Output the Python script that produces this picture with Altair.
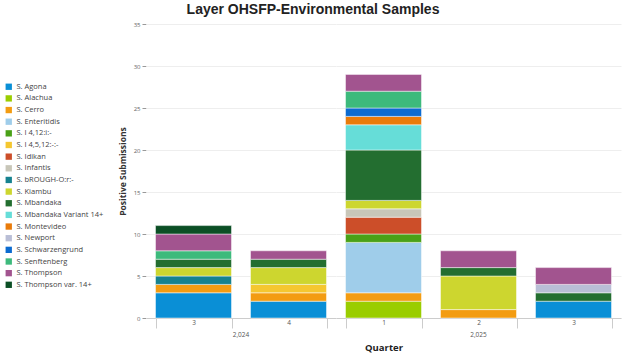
import altair as alt
import pandas as pd

species = [
    "S. Agona", "S. Alachua", "S. Cerro", "S. Enteritidis", "S. I 4,12:i:-",
    "S. I 4,5,12:-:-", "S. Idikan", "S. Infantis", "S. bROUGH-O:r:-", "S. Kiambu",
    "S. Mbandaka", "S. Mbandaka Variant 14+", "S. Montevideo", "S. Newport",
    "S. Schwarzengrund", "S. Senftenberg", "S. Thompson", "S. Thompson var. 14+",
]
colors = [
    "#0A8FD6", "#9ACD00", "#F39C12", "#9FCDEA", "#4AA117",
    "#F5C730", "#CC4E29", "#C8C6B8", "#16828F", "#CDD62F",
    "#236E30", "#66DDD8", "#E97B0A", "#B9BED6",
    "#0C6BD0", "#3DBA7C", "#A2548F", "#0B4F25",
]
years = [2024, 2024, 2025, 2025, 2025]
quarters = [3, 4, 1, 2, 3]
counts = [
    [3, 2, 0, 0, 2],   # Agona
    [0, 0, 2, 0, 0],   # Alachua
    [1, 1, 1, 1, 0],   # Cerro
    [0, 0, 6, 0, 0],   # Enteritidis
    [0, 0, 1, 0, 0],   # I 4,12:i:-
    [0, 1, 0, 0, 0],   # I 4,5,12:-:-
    [0, 0, 2, 0, 0],   # Idikan
    [0, 0, 1, 0, 0],   # Infantis
    [1, 0, 0, 0, 0],   # bROUGH
    [1, 2, 1, 4, 0],   # Kiambu
    [1, 1, 6, 1, 1],   # Mbandaka
    [0, 0, 3, 0, 0],   # Mbandaka Variant 14+
    [0, 0, 1, 0, 0],   # Montevideo
    [0, 0, 0, 0, 1],   # Newport
    [0, 0, 1, 0, 0],   # Schwarzengrund
    [1, 0, 2, 0, 0],   # Senftenberg
    [2, 1, 2, 2, 2],   # Thompson
    [1, 0, 0, 0, 0],   # Thompson var. 14+
]

rows = []
for i, s in enumerate(species):
    for j in range(len(years)):
        v = counts[i][j]
        if v:
            rows.append({"Species": s, "ord": i, "Year": years[j],
                         "Quarter": quarters[j], "Count": v})
df = pd.DataFrame(rows)

LABEL_FONT = "Open Sans"

base = alt.Chart(df).mark_bar(stroke="white", strokeWidth=0.6, strokeOpacity=0.8).encode(
    x=alt.X("Quarter:O", title=None,
            scale=alt.Scale(paddingInner=0.2, paddingOuter=0.1),
            axis=alt.Axis(labelAngle=0, tickBand="extent", tickSize=10,
                          labelPadding=-9, labelFontSize=6.5, labelColor="#555",
                          labelFont=LABEL_FONT,
                          domainColor="#cccccc", tickColor="#cccccc")),
    y=alt.Y("Count:Q", stack="zero",
            scale=alt.Scale(domain=[0, 35]),
            axis=alt.Axis(values=list(range(0, 36, 5)), title="Positive Submissions",
                          titleFont=LABEL_FONT, titleFontSize=8.5, titleFontWeight="bold",
                          titleColor="#333", labelFont=LABEL_FONT, labelFontSize=6,
                          labelColor="#666", tickColor="#999", tickSize=4,
                          domain=False, gridColor="#eeeeee", titlePadding=6)),
    color=alt.Color("Species:N", scale=alt.Scale(domain=species, range=colors),
                    legend=alt.Legend(title=None, orient="none", legendX=-141, legendY=59,
                                      symbolType="square", symbolSize=40,
                                      symbolStrokeWidth=0,
                                      labelFont=LABEL_FONT, labelFontSize=7.5,
                                      labelColor="#444", rowPadding=2.65,
                                      labelLimit=200)),
    order=alt.Order("ord:Q", sort="ascending"),
).properties(width=alt.Step(95), height=294)

chart = base.facet(
    column=alt.Column("Year:O",
                      header=alt.Header(labelOrient="bottom", titleOrient="bottom",
                                        labelExpr="format(datum.value, ',d')",
                                        labelFont=LABEL_FONT, labelFontSize=6.5,
                                        labelColor="#555", labelPadding=3,
                                        title="Quarter", titleFont=LABEL_FONT,
                                        titleFontSize=9.5, titleFontWeight="bold",
                                        titleColor="#222", titlePadding=-6)),
    spacing=0,
).resolve_scale(x="independent").properties(
    title=alt.TitleParams("Layer OHSFP-Environmental Samples", font="Liberation Sans",
                          fontSize=14, fontWeight="bold", color="#222",
                          anchor="middle", frame="bounds", offset=4),
    padding={"left": 5, "top": 3, "right": 2, "bottom": 0},
).configure_view(stroke=None)

chart.save("out.html", embed_options={"renderer": "svg", "actions": False})
